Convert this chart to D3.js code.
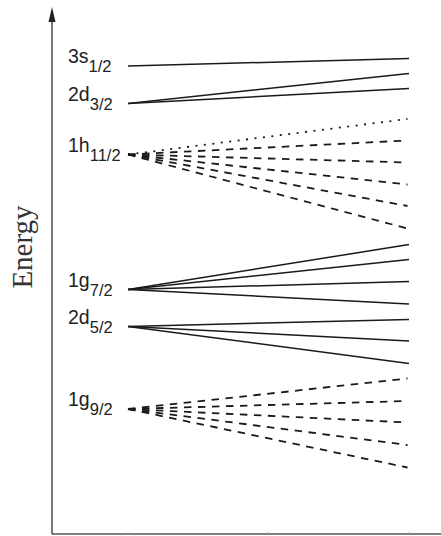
<!DOCTYPE html>
<html>
<head>
<meta charset="utf-8">
<script src="https://cdn.jsdelivr.net/npm/d3@7"></script>
<style>
  body { margin: 0; background: #fff; }
  svg { display: block; }
  .label { font-family: "Liberation Sans", Arial, sans-serif; fill: #222; }
  .axis-title { font-family: "Liberation Serif", "Times New Roman", serif; fill: #333; }
</style>
</head>
<body>
<svg id="chart"></svg>
<script>
// orbitals (spherical side)
const orbitals = ["3s", "2d", "1h", "1g", "2d", "1g"];
const subscripts = ["1/2", "3/2", "11/2", "7/2", "5/2", "9/2"];
// energy of each orbital at zero deformation (arbitrary units)
const origins = [93.6, 86.1, 75.9, 48.9, 41.5, 25.0];
// energies of the split sub-levels at the right end
const splits = [
  [95.1],
  [92.1, 89.1],
  [83.0, 78.7, 74.3, 69.9, 65.6, 61.1],
  [57.9, 54.9, 50.5, 46.0],
  [42.9, 38.6, 34.1],
  [31.1, 26.6, 22.3, 17.8, 13.3]
];
// line kind of each split sub-level
const kinds = [
  ["solid"],
  ["solid", "solid"],
  ["dot", "dash", "dash", "dash", "dash", "dash"],
  ["solid", "solid", "solid", "solid"],
  ["solid", "solid", "solid"],
  ["dash", "dash", "dash", "dash", "dash"]
];
const xTicks = [0, 0.5, 1];

const width = 441, height = 536;
const axisX = 52, axisY = 534;

const svg = d3.select("#chart").attr("width", width).attr("height", height);

const x = d3.scaleLinear().domain([0, 1]).range([128, 409]);
const y = d3.scaleLinear().domain([0, 100]).range([axisY, 34]);

const dashFor = {
  solid: null,
  dash: "7.5,6.5",
  dot: "2,6.5"
};

// lines
const lines = [];
orbitals.forEach((o, i) => {
  splits[i].forEach((e, j) => {
    lines.push({ y0: origins[i], y1: e, kind: kinds[i][j] });
  });
});

svg.append("g")
  .selectAll("line")
  .data(lines)
  .join("line")
  .attr("x1", x(0))
  .attr("y1", d => y(d.y0))
  .attr("x2", d => d.kind === "solid" ? x(1) : x(1) - 1.5)
  .attr("y2", d => y(d.y1))
  .attr("stroke", "#1a1a1a")
  .attr("stroke-width", d => d.kind === "solid" ? 1.5 : 1.8)
  .attr("stroke-dasharray", d => dashFor[d.kind]);

// labels
const labels = svg.append("g")
  .selectAll("text")
  .data(orbitals.map((o, i) => ({ o, sub: subscripts[i], e: origins[i] })))
  .join("text")
  .attr("class", "label")
  .attr("x", 68)
  .attr("y", d => y(d.e) - 3)
  .style("font-size", "19.5px");
labels.append("tspan").text(d => d.o);
labels.append("tspan")
  .attr("dy", 9)
  .style("font-size", "16.5px")
  .text(d => d.sub);

// axes
const axisColor = "#555";

svg.append("line")
  .attr("x1", axisX).attr("y1", axisY)
  .attr("x2", axisX).attr("y2", 20)
  .attr("stroke", axisColor)
  .attr("stroke-width", 1.6);
svg.append("path")
  .attr("d", `M${axisX - 3.5},22L${axisX},7L${axisX + 3.5},22Z`)
  .attr("fill", "#222");

svg.append("line")
  .attr("x1", axisX).attr("y1", axisY)
  .attr("x2", width).attr("y2", axisY)
  .attr("stroke", axisColor)
  .attr("stroke-width", 1.6);

svg.append("g")
  .selectAll("line")
  .data(xTicks)
  .join("line")
  .attr("x1", d => x(d)).attr("x2", d => x(d))
  .attr("y1", axisY).attr("y2", axisY - 2)
  .attr("stroke", "#aaa")
  .attr("stroke-width", 1);

svg.append("text")
  .attr("class", "axis-title")
  .attr("transform", `translate(32,247) rotate(-90)`)
  .attr("text-anchor", "middle")
  .style("font-size", "29px")
  .text("Energy");
</script>
</body>
</html>
